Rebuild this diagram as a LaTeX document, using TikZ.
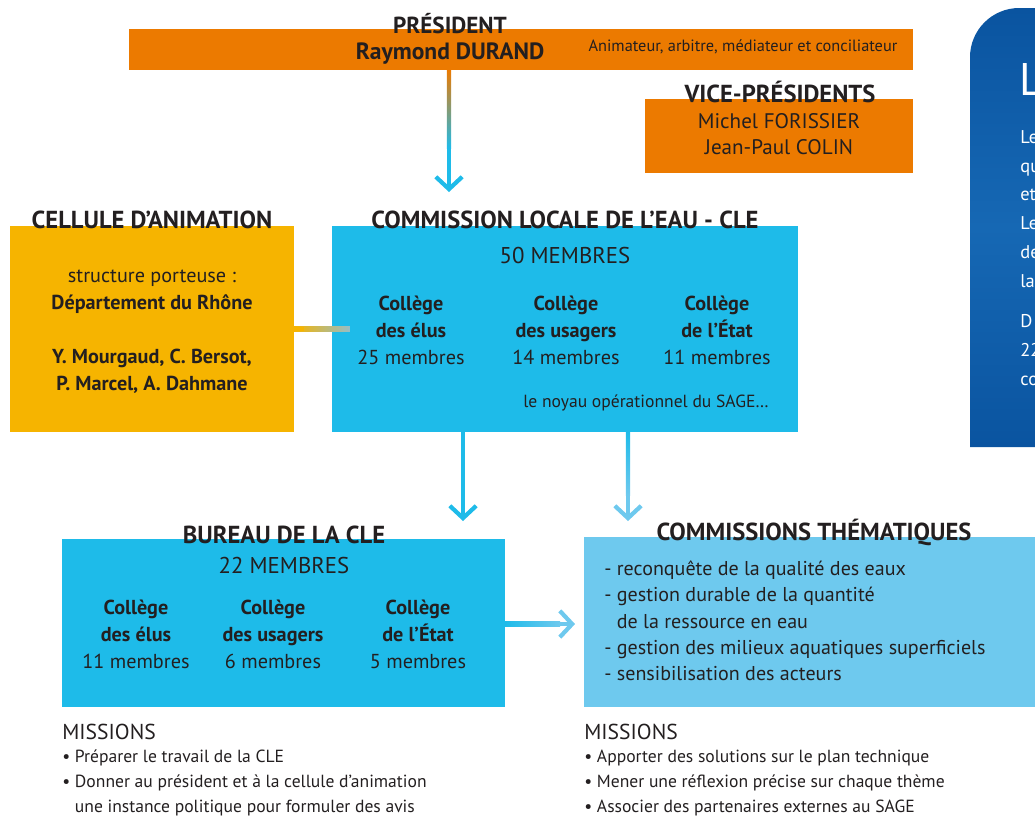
\documentclass[tikz,border=0pt]{standalone}
\usepackage{fontspec}
\setmainfont{PT Sans}
\usepackage{xcolor}
\usetikzlibrary{arrows.meta,positioning,fit}

\definecolor{presorange}{RGB}{236,122,0}
\definecolor{celyellow}{RGB}{246,180,0}
\definecolor{cleblue}{RGB}{30,187,233}
\definecolor{comblue}{RGB}{110,201,238}
\definecolor{panelblue}{RGB}{10,84,160}
\definecolor{panellight}{RGB}{22,104,180}
\definecolor{txtgrey}{RGB}{35,31,32}
\definecolor{fadegrey}{RGB}{150,190,200}

\begin{document}
\begin{tikzpicture}[x=0.02cm, y=-0.02cm,
  box/.style={inner sep=0pt, outer sep=0pt},
  title/.style={font=\bfseries\fontsize{14}{16}\selectfont, text=txtgrey},
  body/.style={font=\fontsize{11.5}{15.3}\selectfont, text=txtgrey, align=center},
  college/.style={font=\fontsize{11.5}{15.3}\selectfont, text=txtgrey, align=center},
  listtext/.style={font=\fontsize{10}{14}\selectfont, text=txtgrey, align=left, anchor=west, inner sep=0pt},
  paneltext/.style={anchor=west, text=white, align=left, inner sep=0pt, font=\fontsize{10.5}{16.4}\selectfont},
  link/.style={-{Straight Barb[length=7pt,width=15pt]}, line width=2.4pt, cleblue}]
\useasboundingbox (0,0) rectangle (1035,816);
\clip (0,0) rectangle (1035,816);

% Side panel
\shade[top color=panelblue, bottom color=panelblue, middle color=panellight]
  (1060,447) -- (970,447) [rounded corners=28pt]-- (970,8) [sharp corners]-- (1060,8) -- cycle;
\node[paneltext, font=\fontsize{26}{30}\selectfont] (paneltitle) at (1019,80) {L};
\node[paneltext] (panelA) at (1020,209) {Le\\qu\\et\\Le\\de\\la};
\node[paneltext] (panelB) at (1020,350) {D\\22\\co};

% Boxes
\node[box, fill=presorange, fit={(129,29) (913,70)}] (pres) {};
\node[box, fill=presorange, fit={(645,99) (913,173)}] (vice) {};
\node[box, fill=celyellow, fit={(10,226) (294,432)}] (cell) {};
\node[box, fill=cleblue, fit={(332,226) (798,432)}] (cle) {};
\node[box, fill=cleblue, fit={(62,539) (505,707)}] (bur) {};
\node[box, fill=comblue, fit={(584,537) (1040,707)}] (com) {};

% Connectors
\coordinate (clein) at (449,192);
\coordinate (burin) at (463,521);
\coordinate (comin) at (628,521);
\coordinate (comleft) at (575,624);
\draw[link] (pres.south -| clein) -- (clein);
\shade[top color=presorange, bottom color=cleblue] (446.9,70) rectangle (451.1,148);
\draw[link] (cle.south -| burin) -- (burin);
\draw[link, comblue] (cle.south -| comin) -- (comin);
\shade[top color=cleblue, bottom color=comblue] (625.9,432) rectangle (630.1,495);
\draw[link, comblue] (bur.east |- comleft) -- (comleft);
\shade[left color=cleblue, right color=comblue] (505,621.9) rectangle (560,626.1);
\shade[left color=celyellow, right color=fadegrey] ([yshift=-1.2pt]cell.east) rectangle ([yshift=1.2pt, xshift=1.12cm]cell.east);
\fill[celyellow] ([yshift=-1.2pt]cell.east) rectangle ([yshift=1.2pt, xshift=0.2cm]cell.east);

% President
\node[title, font=\bfseries\fontsize{13.2}{15}\selectfont] (prestitle) at (450,24) {PRÉSIDENT};
\node[title, font=\bfseries\fontsize{13.4}{15}\selectfont] (presname) at (450,54) {Raymond DURAND};
\node[text=txtgrey, font=\fontsize{9.3}{11}\selectfont] (presrole) at (743,47) {Animateur, arbitre, médiateur et conciliateur};

% Vice-presidents
\node[title] (vicetitle) at (780,92) {VICE-PRÉSIDENTS};
\node[body, font=\fontsize{12}{14.8}\selectfont] (vicenames) at (779,134) {Michel FORISSIER\\Jean-Paul COLIN};

% Cellule d'animation
\node[title] (celltitle) at (152,220) {CELLULE D’ANIMATION};
\node[body] (cellA) at (152,292) {structure porteuse :\\\textbf{Département du Rhône}};
\node[body] (cellB) at (152,371) {\textbf{Y. Mourgaud, C. Bersot,}\\\textbf{P. Marcel, A. Dahmane}};

% CLE
\node[title] (cletitle) at (565,220) {COMMISSION LOCALE DE L’EAU - CLE};
\node[body, font=\fontsize{13}{15}\selectfont] (clecount) at (565,255) {50 MEMBRES};
\node[college] (cleelus) at (411,330) {\textbf{Collège}\\\textbf{des élus}\\25 membres};
\node[college] (cleusagers) at (566,330) {\textbf{Collège}\\\textbf{des usagers}\\14 membres};
\node[college] (cleetat) at (717,330) {\textbf{Collège}\\\textbf{de l’État}\\11 membres};
\node[anchor=east, text=txtgrey, font=\fontsize{10}{12}\selectfont] (clenote) at (775,403) {le noyau opérationnel du SAGE…};

% Bureau
\node[title] (burtitle) at (284,535) {BUREAU DE LA CLE};
\node[body, font=\fontsize{13}{15}\selectfont] (burcount) at (284,565) {22 MEMBRES};
\node[college] (burelus) at (136,634) {\textbf{Collège}\\\textbf{des élus}\\11 membres};
\node[college] (burusagers) at (273,634) {\textbf{Collège}\\\textbf{des usagers}\\6 membres};
\node[college] (buretat) at (418,634) {\textbf{Collège}\\\textbf{de l’État}\\5 membres};

% Commissions thematiques
\node[title] (comtitle) at (814,532) {COMMISSIONS THÉMATIQUES};
\node[listtext, font=\fontsize{11.4}{15}\selectfont] (comlist) at (604,621) {- reconquête de la qualité des eaux\\- gestion durable de la quantité\\\phantom{- }de la ressource en eau\\- gestion des milieux aquatiques superficiels\\- sensibilisation des acteurs};

% Missions
\node[anchor=west, inner sep=0pt, text=txtgrey, font=\fontsize{12.3}{14}\selectfont] (burmis) at (62,732) {MISSIONS};
\node[listtext] (burmislist) at (62,783) {• Préparer le travail de la CLE\\• Donner au président et à la cellule d’animation\\\phantom{• }une instance politique pour formuler des avis};
\node[anchor=west, inner sep=0pt, text=txtgrey, font=\fontsize{12.3}{14}\selectfont] (commis) at (584,732) {MISSIONS};
\node[listtext] (commislist) at (584,783) {• Apporter des solutions sur le plan technique\\• Mener une réflexion précise sur chaque thème\\• Associer des partenaires externes au SAGE};
\end{tikzpicture}
\end{document}
